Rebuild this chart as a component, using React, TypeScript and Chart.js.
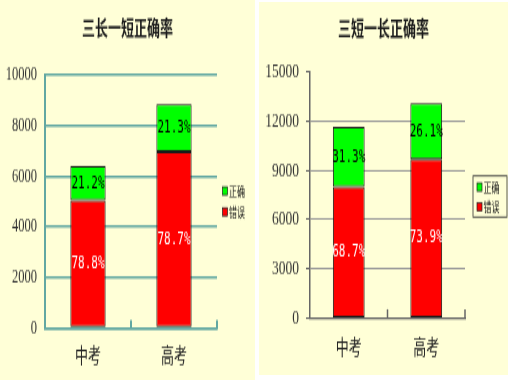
import React, { useEffect, useRef } from 'react';
import { Chart, registerables } from 'chart.js';

Chart.register(...registerables);

// ---------- data ----------
const categories = ['中考', '高考'];
const seriesNames = ['错误', '正确'];

const leftTitle = '三长一短正确率';
const leftWrong = [5045, 6965];
const leftCorrect = [1355, 1885];
const leftWrongLabels = ['78.8%', '78.7%'];
const leftCorrectLabels = ['21.2%', '21.3%'];
const leftTicks = [0, 2000, 4000, 6000, 8000, 10000];

const rightTitle = '三短一长正确率';
const rightWrong = [8005, 9680];
const rightCorrect = [3645, 3420];
const rightWrongLabels = ['68.7%', '73.9%'];
const rightCorrectLabels = ['31.3%', '26.1%'];
const rightTicks = [0, 3000, 6000, 9000, 12000, 15000];

const RED = '#FF0000';
const GREEN = '#00FF00';
const BG = '#FFFFD7';
const CJK = '"Noto Sans CJK SC", "Noto Sans", sans-serif';

type PanelCfg = {
  title: string;
  wrong: number[];
  correct: number[];
  wrongLabels: string[];
  correctLabels: string[];
  ticks: number[];
  left: number;
  top: number;
  width: number;
  dispHeight: number;
  height: number;
  area: { left: number; right: number; top: number; bottom: number };
  titleY: number;
  xLabelPad: number;
  xTickLen: number;
  axisColor: string;
  axisWidthY: number;
  axisWidthX: number;
  gridColor: string;
  gridWidth: number;
  gridSkipTop: boolean;
  yTickLen: number;
  yFont: number;
  yPad: number;
  legend: { x: number; y1: number; y2: number; sq: number; box?: { x: number; y: number; w: number; h: number } };
};

const panels: PanelCfg[] = [
  {
    title: leftTitle,
    wrong: leftWrong,
    correct: leftCorrect,
    wrongLabels: leftWrongLabels,
    correctLabels: leftCorrectLabels,
    ticks: leftTicks,
    left: 0,
    top: 0,
    width: 255,
    dispHeight: 380,
    height: 238,
    area: { left: 45, right: 217, top: 47, bottom: 205.4 },
    titleY: 17.5,
    xLabelPad: 8.5,
    xTickLen: 5,
    axisColor: '#62A8A2',
    axisWidthY: 2,
    axisWidthX: 1.5,
    gridColor: '#62A8A2',
    gridWidth: 1.5,
    gridSkipTop: false,
    yTickLen: 0,
    yFont: 12.5,
    yPad: 8,
    legend: { x: 222.5, y1: 119.6, y2: 132.7, sq: 5 },
  },
  {
    title: rightTitle,
    wrong: rightWrong,
    correct: rightCorrect,
    wrongLabels: rightWrongLabels,
    correctLabels: rightCorrectLabels,
    ticks: rightTicks,
    left: 259,
    top: 2,
    width: 249,
    dispHeight: 373,
    height: 233,
    area: { left: 51, right: 206, top: 43.7, bottom: 197.4 },
    titleY: 15.6,
    xLabelPad: 9.7,
    xTickLen: 5.5,
    axisColor: '#666666',
    axisWidthY: 1.5,
    axisWidthX: 1.2,
    gridColor: '#999999',
    gridWidth: 1,
    gridSkipTop: true,
    yTickLen: 4,
    yFont: 13.5,
    yPad: 7,
    legend: { x: 218, y1: 115.6, y2: 128, sq: 5, box: { x: 214, y: 108.7, w: 34, h: 25.6 } },
  },
];

function ChartPanel({ cfg }: { cfg: PanelCfg }) {
  const ref = useRef<HTMLCanvasElement | null>(null);

  useEffect(() => {
    if (!ref.current) return;
    const topTick = cfg.ticks[cfg.ticks.length - 1];

    const decorations = {
      id: 'decorations',
      afterDraw(chart: any) {
        const ctx = chart.ctx;
        const ca = chart.chartArea;
        const xs = chart.scales.x;
        ctx.save();
        // title
        ctx.font = `bold 13px ${CJK}`;
        ctx.fillStyle = '#1a1a1a';
        ctx.textAlign = 'center';
        ctx.textBaseline = 'middle';
        ctx.fillText(cfg.title, chart.width / 2, cfg.titleY);
        // upward x-axis ticks between categories
        ctx.strokeStyle = cfg.axisColor;
        ctx.lineWidth = cfg.axisWidthY;
        for (let i = 1; i <= categories.length; i++) {
          const px = xs.getPixelForValue(i - 0.5);
          ctx.beginPath();
          ctx.moveTo(px, ca.bottom);
          ctx.lineTo(px, ca.bottom - cfg.xTickLen);
          ctx.stroke();
        }
        // legend
        const lg = cfg.legend;
        if (lg.box) {
          ctx.strokeStyle = '#333';
          ctx.lineWidth = 0.8;
          ctx.strokeRect(lg.box.x, lg.box.y, lg.box.w, lg.box.h);
        }
        const items = [
          { name: seriesNames[1], color: GREEN, y: lg.y1 },
          { name: seriesNames[0], color: RED, y: lg.y2 },
        ];
        ctx.font = `8px ${CJK}`;
        ctx.textAlign = 'left';
        ctx.textBaseline = 'middle';
        items.forEach((it) => {
          ctx.fillStyle = it.color;
          ctx.fillRect(lg.x, it.y - lg.sq / 2, lg.sq, lg.sq);
          ctx.strokeStyle = '#222';
          ctx.lineWidth = 0.7;
          ctx.strokeRect(lg.x, it.y - lg.sq / 2, lg.sq, lg.sq);
          ctx.fillStyle = '#111';
          ctx.fillText(it.name, lg.x + lg.sq + 1.5, it.y);
        });
        ctx.restore();
      },
    };

    const barLabels = {
      id: 'barLabels',
      afterDatasetsDraw(chart: any) {
        const ctx = chart.ctx;
        const sets = [cfg.wrongLabels, cfg.correctLabels];
        ctx.save();
        ctx.font = '11px "DejaVu Sans Mono", "Liberation Mono", monospace';
        ctx.textAlign = 'center';
        ctx.textBaseline = 'middle';
        chart.data.datasets.forEach((_ds: any, di: number) => {
          const meta = chart.getDatasetMeta(di);
          meta.data.forEach((el: any, i: number) => {
            ctx.fillStyle = di === 0 ? '#ffffff' : '#000000';
            ctx.fillText(sets[di][i], el.x, (el.y + el.base) / 2);
          });
        });
        ctx.restore();
      },
    };

    const chart = new Chart(ref.current, {
      type: 'bar',
      data: {
        labels: categories,
        datasets: [
          {
            label: seriesNames[0],
            data: cfg.wrong,
            backgroundColor: RED,
            borderColor: '#1a1a1a',
            borderWidth: 1,
            borderSkipped: false,
            categoryPercentage: 0.41,
            barPercentage: 1,
          },
          {
            label: seriesNames[1],
            data: cfg.correct,
            backgroundColor: GREEN,
            borderColor: '#1a1a1a',
            borderWidth: 1,
            borderSkipped: false,
            categoryPercentage: 0.41,
            barPercentage: 1,
          },
        ],
      },
      options: {
        responsive: false,
        animation: false,
        devicePixelRatio: 1,
        events: [],
        layout: {
          padding: {
            top: cfg.area.top,
            right: cfg.width - cfg.area.right,
            left: 0,
            bottom: 0,
          },
        },
        plugins: {
          legend: { display: false },
          title: { display: false },
          tooltip: { enabled: false },
        },
        scales: {
          x: {
            stacked: true,
            grid: { display: false, drawTicks: false },
            border: { display: true, color: cfg.axisColor, width: cfg.axisWidthX },
            ticks: {
              color: '#222',
              padding: cfg.xLabelPad,
              font: { family: CJK, size: 13 },
            },
            afterFit: (s: any) => {
              s.height = cfg.height - cfg.area.bottom;
            },
          },
          y: {
            stacked: true,
            min: cfg.ticks[0],
            max: topTick,
            afterBuildTicks: (s: any) => {
              s.ticks = cfg.ticks.map((v) => ({ value: v }));
            },
            grid: {
              color: (c: any) =>
                cfg.gridSkipTop && c.tick && c.tick.value === topTick ? 'rgba(0,0,0,0)' : cfg.gridColor,
              tickColor: cfg.axisColor,
              lineWidth: cfg.gridWidth,
              drawTicks: cfg.yTickLen > 0,
              tickLength: cfg.yTickLen,
            },
            border: { display: true, color: cfg.axisColor, width: cfg.axisWidthY },
            ticks: {
              color: '#333',
              padding: cfg.yPad,
              font: { family: '"Liberation Serif", "DejaVu Serif", serif', size: cfg.yFont },
              callback: (v: any) => String(v),
            },
            afterFit: (s: any) => {
              s.width = cfg.area.left;
            },
          },
        },
      },
      plugins: [barLabels, decorations],
    });
    return () => chart.destroy();
  }, [cfg]);

  return (
    <canvas
      ref={ref}
      width={cfg.width}
      height={cfg.height}
      style={{
        position: 'absolute',
        left: cfg.left,
        top: cfg.top,
        width: cfg.width + 'px',
        height: cfg.dispHeight + 'px',
        background: BG,
        display: 'block',
      }}
    />
  );
}

export default function App() {
  return (
    <div
      style={{
        position: 'fixed',
        left: 0,
        top: 0,
        width: 510,
        height: 380,
        background: '#ffffff',
        overflow: 'hidden',
      }}
    >
      {panels.map((p, i) => (
        <ChartPanel key={i} cfg={p} />
      ))}
    </div>
  );
}
